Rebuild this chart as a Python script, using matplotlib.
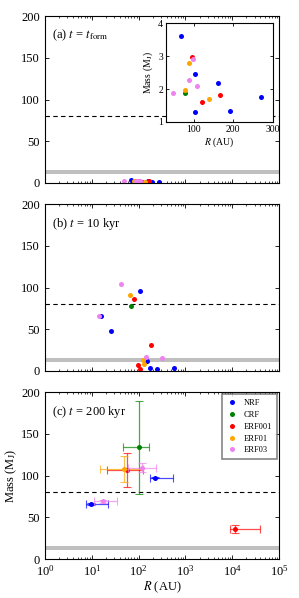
import matplotlib
matplotlib.use("Agg")
import matplotlib.pyplot as plt
import numpy as np

plt.rcParams["font.family"] = ["Liberation Serif", "DejaVu Serif"]
plt.rcParams["mathtext.fontset"] = "stix"
plt.rcParams["xtick.direction"] = "in"
plt.rcParams["ytick.direction"] = "in"
plt.rcParams["xtick.top"] = True
plt.rcParams["ytick.right"] = True

models = ["NRF", "CRF", "ERF001", "ERF01", "ERF03"]
colors = {"NRF": "blue", "CRF": "green", "ERF001": "red", "ERF01": "orange", "ERF03": "violet"}

# (a) t = t_form : R (AU), mass (MJ)
form_R = {
    "NRF": [67, 104, 162, 104, 191, 270],
    "CRF": [79],
    "ERF001": [95, 120, 166],
    "ERF01": [87, 79, 139],
    "ERF03": [98, 89, 108, 48],
}
form_M = {
    "NRF": [3.6, 2.46, 2.19, 1.29, 1.33, 1.77],
    "CRF": [1.89],
    "ERF001": [2.97, 1.62, 1.83],
    "ERF01": [2.79, 1.98, 1.71],
    "ERF03": [2.91, 2.27, 2.10, 1.88],
}

# (b) t = 10 kyr
b_R = {
    "NRF": [107, 15.7, 25.7, 149, 172, 243, 580],
    "CRF": [70],
    "ERF001": [78.5, 181, 98.6, 107],
    "ERF01": [65, 124, 132],
    "ERF03": [41, 14, 311, 144],
}
b_M = {
    "NRF": [96.4, 65.5, 47.8, 12.0, 3.2, 2.4, 3.2],
    "CRF": [77.9],
    "ERF001": [86.3, 31.7, 7.2, 2.0],
    "ERF01": [90.8, 12.9, 8.0],
    "ERF03": [104.4, 65.5, 15.7, 16.5],
}

# (c) t = 200 kyr : value, lower/upper ranges
c_R = {"NRF": [9.8, 223], "CRF": [103], "ERF001": [56, 11200], "ERF01": [48.6], "ERF03": [17, 116]}
c_Rlo = {"NRF": [7.5, 175], "CRF": [47], "ERF001": [20.8, 8900], "ERF01": [14.7], "ERF03": [11.3, 60]}
c_Rhi = {"NRF": [21.8, 541], "CRF": [166], "ERF001": [122, 39800], "ERF01": [122], "ERF03": [33.9, 235]}
c_M = {"NRF": [66.3, 97.6], "CRF": [134], "ERF001": [106.4, 36.5], "ERF01": [107.6], "ERF03": [69, 109]}
c_Mlo = {"NRF": [65.3, 96.6], "CRF": [78.3], "ERF001": [86, 31.3], "ERF01": [92.8], "ERF03": [67, 104.4]}
c_Mhi = {"NRF": [67.3, 98.6], "CRF": [190], "ERF001": [126.5, 41], "ERF01": [123.7], "ERF03": [71, 114.9]}

ms = 3.6
fig = plt.figure(figsize=(2.99, 5.98), dpi=100)
axa = fig.add_axes([0.1505, 0.694, 0.783, 0.279])
axb = fig.add_axes([0.1505, 0.3796, 0.783, 0.279])
axc = fig.add_axes([0.1505, 0.0652, 0.783, 0.279])


def setup(ax):
    ax.set_xscale("log")
    ax.set_xlim(1, 1e5)
    ax.set_ylim(0, 200)
    ax.set_yticks([0, 50, 100, 150, 200])
    ax.axhline(80, color="k", ls="--", lw=0.8, dashes=(4, 3))
    ax.axhspan(11, 15.5, color="0.75", lw=0, zorder=0)
    ax.tick_params(labelsize=9, length=3, width=0.6)
    ax.tick_params(which="minor", length=1.5, width=0.5)
    for s in ax.spines.values():
        s.set_linewidth(0.8)


for ax in (axa, axb, axc):
    setup(ax)

for m in models:
    axa.plot(form_R[m], form_M[m], "o", color=colors[m], ms=ms, mec="none")
    axb.plot(b_R[m], b_M[m], "o", color=colors[m], ms=ms, mec="none")

for m in models:
    R = np.array(c_R[m]); M = np.array(c_M[m])
    xerr = [R - np.array(c_Rlo[m]), np.array(c_Rhi[m]) - R]
    yerr = [M - np.array(c_Mlo[m]), np.array(c_Mhi[m]) - M]
    axc.errorbar(R, M, xerr=xerr, yerr=yerr, fmt="none", ecolor=colors[m],
                 elinewidth=0.9, capsize=3, capthick=0.8, alpha=0.7)
    axc.plot(R, M, "o", color=colors[m], ms=ms, mec="none", label=m)

axa.set_xticklabels([])
axb.set_xticklabels([])
axa.tick_params(labelbottom=False)
axb.tick_params(labelbottom=False)

axa.text(0.03, 0.93, r"(a) $t$ = $t_{\rm form}$", transform=axa.transAxes, fontsize=9, va="top")
axb.text(0.03, 0.93, r"(b) $t$ = 10 kyr", transform=axb.transAxes, fontsize=9, va="top")
axc.text(0.03, 0.93, r"(c) $t$ = 200 kyr", transform=axc.transAxes, fontsize=9, va="top")

axc.set_xlabel(r"$R$ (AU)", fontsize=9, labelpad=1)
axc.set_ylabel(r"Mass (M$_{\rm J}$)", fontsize=9, labelpad=2)

leg = axc.legend(loc="upper right", numpoints=1, fontsize=6, frameon=True, fancybox=False,
                 handlelength=1.2, borderpad=0.6, labelspacing=0.45, handletextpad=0.8,
                 borderaxespad=0.25)
leg.get_frame().set_edgecolor("0.4")
leg.get_frame().set_linewidth(1.2)

# inset in panel (a)
ins = fig.add_axes([0.555, 0.796, 0.358, 0.1655])
for m in models:
    ins.plot(form_R[m], form_M[m], "o", color=colors[m], ms=ms, mec="none")
ins.set_xlim(30, 300)
ins.set_ylim(1, 4)
ins.set_xticks([100, 200, 300])
ins.set_yticks([1, 2, 3, 4])
ins.tick_params(labelsize=7, length=2.5, width=0.6, pad=2)
ins.set_xlabel(r"$R$ (AU)", fontsize=7, labelpad=1)
ins.set_ylabel(r"Mass (M$_{\rm J}$)", fontsize=7, labelpad=2)
for s in ins.spines.values():
    s.set_linewidth(0.8)

fig.savefig("out.png", dpi=100)
